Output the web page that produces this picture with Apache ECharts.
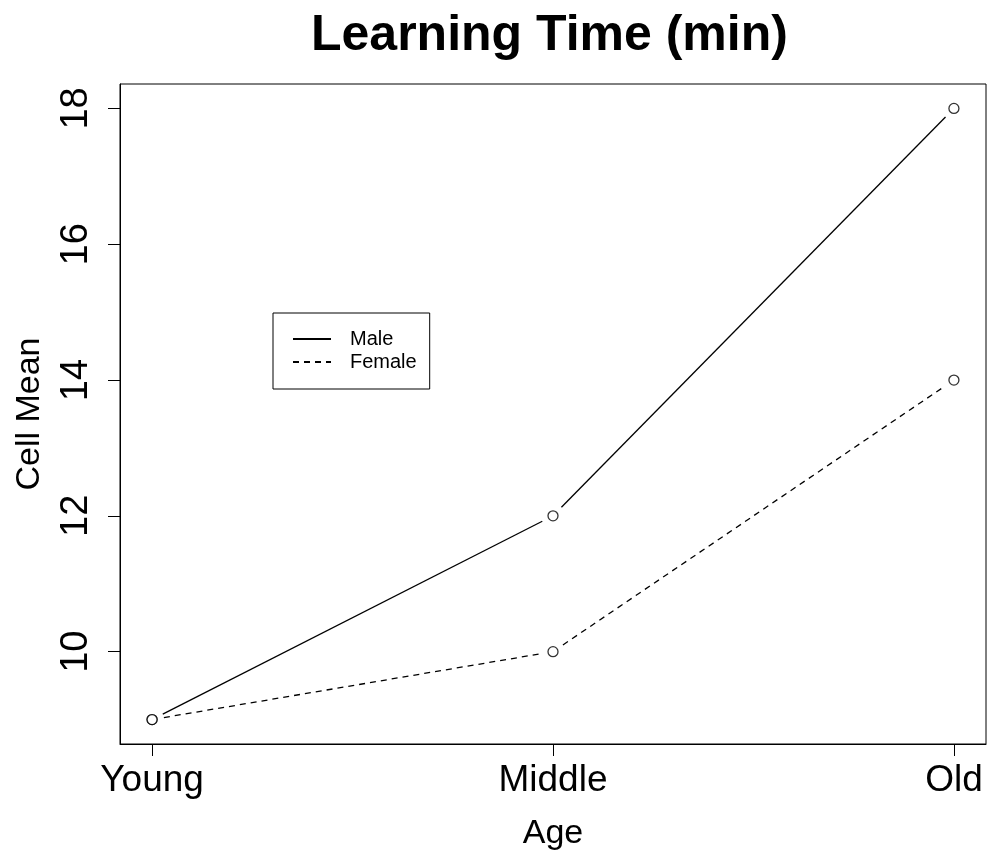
<!DOCTYPE html>
<html>
<head>
<meta charset="utf-8">
<script src="https://cdn.jsdelivr.net/npm/echarts@6/dist/echarts.min.js"></script>
<style>
  html, body { margin: 0; padding: 0; background: #fff; }
  #chart { width: 987px; height: 850px; }
</style>
</head>
<body>
<div id="chart"></div>
<script>
// Cell means of learning time by age group and sex
const categories = ['Young', 'Middle', 'Old'];
const male = [9, 12, 18];
const female = [9, 10, 14];
const yTicks = [10, 12, 14, 16, 18];

const FONT = '"Liberation Sans", Arial, Helvetica, sans-serif';

// x positions 1..n for each age group
const xs = categories.map((c, i) => i + 1);
const pairs = (vals) => vals.map((v, i) => [xs[i], v]);
// consecutive point pairs as segments [x1, y1, x2, y2]
const segments = (vals) => vals.slice(1).map((v, i) => [xs[i], vals[i], xs[i + 1], v]);

// 4% padding on each side of the data range
const xMin = 1 - 0.04 * (xs.length - 1), xMax = xs.length + 0.04 * (xs.length - 1);
const allY = male.concat(female);
const yLo = Math.min(...allY), yHi = Math.max(...allY);
const yMin = yLo - 0.04 * (yHi - yLo), yMax = yHi + 0.04 * (yHi - yLo);

const chart = echarts.init(document.getElementById('chart'), null, { renderer: 'canvas' });

const lineW = 1.3;
const GAP = 12;          // px left open between a segment end and its point
const DASH = [6, 5];

// Segments between points, shortened at both ends so points sit in a gap
const segmentSeries = (name, vals, dash) => ({
  name: name + '-seg', type: 'custom', data: segments(vals),
  encode: { x: [0, 2], y: [1, 3] }, z: 2, silent: true,
  renderItem: (params, api) => {
    const p1 = api.coord([api.value(0), api.value(1)]);
    const p2 = api.coord([api.value(2), api.value(3)]);
    const dx = p2[0] - p1[0], dy = p2[1] - p1[1];
    const len = Math.hypot(dx, dy);
    const g = GAP / len;
    return {
      type: 'line',
      shape: { x1: p1[0] + dx * g, y1: p1[1] + dy * g, x2: p2[0] - dx * g, y2: p2[1] - dy * g },
      style: { stroke: '#000', lineWidth: lineW, lineDash: dash || null, fill: null }
    };
  }
});

const pointSeries = (name, vals) => ({
  name: name + '-pt', type: 'scatter', data: pairs(vals), symbol: 'circle', symbolSize: 10,
  itemStyle: { color: '#fff', borderColor: '#000', borderWidth: lineW }, z: 4, silent: true
});

chart.setOption({
  animation: false,
  backgroundColor: '#fff',
  title: {
    text: 'Learning Time (min)',
    left: 311, top: 11, padding: 0,
    textStyle: { fontFamily: FONT, fontSize: 50, fontWeight: 'bold', color: '#000' }
  },
  legend: {
    data: ['Male', 'Female'],
    orient: 'vertical',
    left: 273, top: 313,
    padding: [16, 13, 17, 19],
    itemWidth: 38, itemHeight: 14, itemGap: 3,
    borderColor: '#000', borderWidth: 1,
    backgroundColor: '#fff',
    selectedMode: false,
    itemStyle: { opacity: 0 },
    textStyle: { fontFamily: FONT, fontSize: 20, color: '#000', padding: [0, 0, 0, 14] }
  },
  grid: {
    left: 120, right: 1, top: 84, bottom: 106,
    outerBoundsMode: 'none', containLabel: false,
    show: true, borderColor: '#000', borderWidth: 1, backgroundColor: 'transparent'
  },
  xAxis: {
    type: 'value', min: xMin, max: xMax,
    name: 'Age', nameLocation: 'middle', nameGap: 73,
    nameTextStyle: { fontFamily: FONT, fontSize: 34, color: '#000' },
    axisLine: { show: true, lineStyle: { color: '#000', width: 1 } },
    axisTick: { show: true, length: 12, customValues: xs, lineStyle: { color: '#000', width: 1 } },
    axisLabel: {
      customValues: xs, margin: 18,
      fontFamily: FONT, fontSize: 37, color: '#000',
      formatter: (v) => categories[Math.round(v) - 1]
    },
    splitLine: { show: false }
  },
  yAxis: {
    type: 'value', min: yMin, max: yMax,
    name: 'Cell Mean', nameLocation: 'middle', nameGap: 73, nameRotate: 90,
    nameTextStyle: { fontFamily: FONT, fontSize: 34, color: '#000' },
    axisLine: { show: true, lineStyle: { color: '#000', width: 1 } },
    axisTick: { show: true, length: 12, customValues: yTicks, lineStyle: { color: '#000', width: 1 } },
    axisLabel: {
      customValues: yTicks, rotate: 90, margin: 24,
      fontFamily: FONT, fontSize: 38, color: '#000'
    },
    splitLine: { show: false }
  },
  series: [
    // legend entries; the visible strokes come from the segment series
    {
      name: 'Male', type: 'line', data: [], symbol: 'none',
      lineStyle: { color: '#000', width: lineW, type: 'solid' }, itemStyle: { color: '#000' }
    },
    {
      name: 'Female', type: 'line', data: [], symbol: 'none',
      lineStyle: { color: '#000', width: lineW, type: DASH }, itemStyle: { color: '#000' }
    },
    segmentSeries('Male', male, null),
    segmentSeries('Female', female, DASH),
    pointSeries('Male', male),
    pointSeries('Female', female)
  ]
});
</script>
</body>
</html>
